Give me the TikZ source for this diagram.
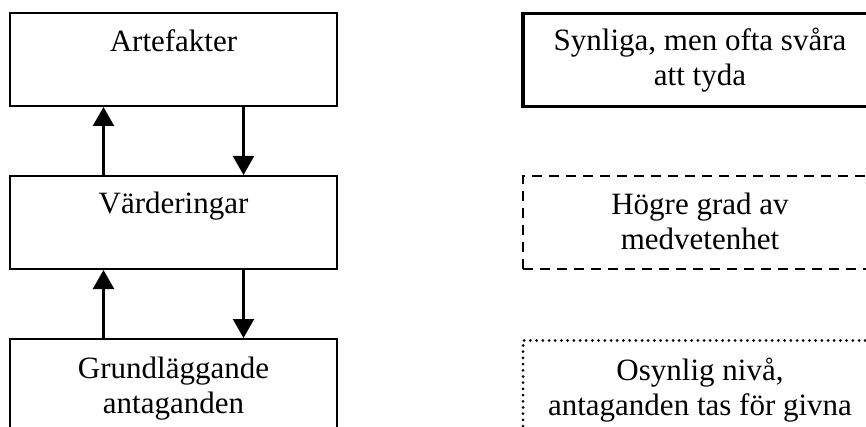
\documentclass[tikz,border=0pt]{standalone}
\usepackage{fontspec}
\setmainfont{Liberation Serif}
\usetikzlibrary{arrows.meta}

\tikzset{
    lvlbox/.style={draw, line width=2pt, minimum width=327pt, minimum height=93pt, anchor=north, inner sep=0pt},
    notebox/.style={draw, minimum width=354pt, minimum height=93pt, anchor=north, inner sep=0pt},
    boxtext/.style={anchor=base, align=center, inner sep=0pt, font=\fontsize{31}{35}\selectfont},
    flow/.style={line width=2.2pt, -{Triangle[width=21pt,length=19pt]}}
}

\begin{document}
\begin{tikzpicture}[x=1pt,y=-1pt]
        \useasboundingbox (0,0) rectangle (866,427);
        \clip (0,0) rectangle (866,427);
        % levels
        \node[lvlbox] (art) at (173.5,12) {};
        \node[lvlbox] (vard) at (173.5,175) {};
        \node[lvlbox] (grund) at (173.5,338) {};
        \node[boxtext] (artT) at (173.5,52) {Artefakter};
        \node[boxtext] (vardT) at (173.5,214) {Värderingar};
        \node[boxtext] (grundT) at (173.5,413) {Grundläggande\\antaganden};
        % arrows between the levels
        \draw[flow] ([xshift=-70pt]vard.north) -- ([xshift=-70pt]art.south);
        \draw[flow] ([xshift=70pt]art.south) -- ([xshift=70pt]vard.north);
        \draw[flow] ([xshift=-70pt]grund.north) -- ([xshift=-70pt]vard.south);
        \draw[flow] ([xshift=70pt]vard.south) -- ([xshift=70pt]grund.north);
        % notes on the right
        \node[notebox, line width=3.5pt] (synl) at (700,12) {};
        \node[notebox, line width=2.5pt, dash pattern=on 10pt off 7pt] (hogre) at (700,175) {};
        \node[notebox, line width=3pt, line cap=round, dash pattern=on 0pt off 6.2pt] (osyn) at (700,339) {};
        \node[boxtext] (synlT) at (700,86) {Synliga, men ofta svåra\\att tyda};
        \node[boxtext] (hogreT) at (700,250) {Högre grad av\\medvetenhet};
        \node[boxtext] (osynT) at (700,415) {Osynlig nivå,\\antaganden tas för givna};
    \end{tikzpicture}
\end{document}
